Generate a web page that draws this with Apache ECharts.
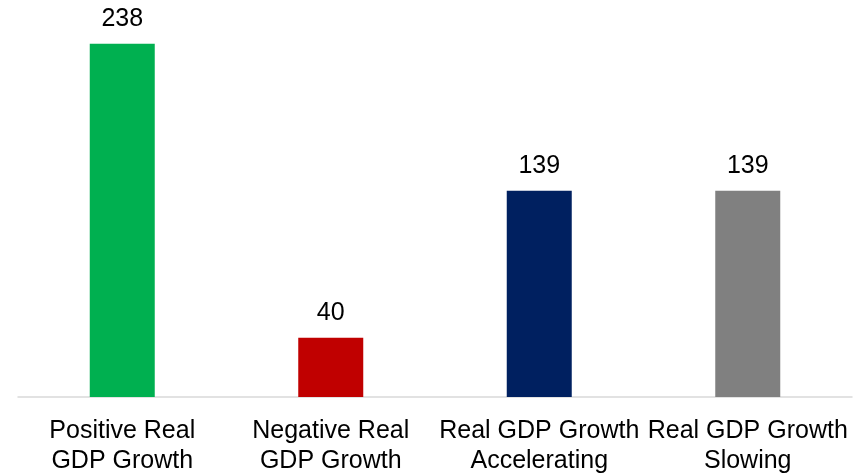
<!DOCTYPE html>
<html>
<head>
<meta charset="utf-8">
<script src="https://cdn.jsdelivr.net/npm/echarts@6/dist/echarts.min.js"></script>
<style>html,body{margin:0;padding:0;background:#fff;}#c{width:861px;height:476px;}</style>
</head>
<body>
<div id="c"></div>
<script>
var categories = ['Positive Real\nGDP Growth', 'Negative Real\nGDP Growth', 'Real GDP Growth\nAccelerating', 'Real GDP Growth\nSlowing'];
var values = [238, 40, 139, 139];
var colors = ['#00B050', '#C00000', '#002060', '#808080'];

var chart = echarts.init(document.getElementById('c'));
chart.setOption({
  animation: false,
  grid: { left: 18, right: 9, top: 26, bottom: 76, containLabel: false },
  xAxis: {
    type: 'category',
    data: categories,
    axisLine: { show: true, lineStyle: { color: '#d9d9d9', width: 1.5 } },
    axisTick: { show: false },
    axisLabel: {
      interval: 0,
      color: '#000',
      fontFamily: 'Liberation Sans, Arial, sans-serif',
      fontSize: 25,
      lineHeight: 30,
      margin: 19
    }
  },
  yAxis: { type: 'value', min: 0, max: 250, show: false, splitLine: { show: false } },
  series: [{
    type: 'bar',
    barWidth: 65,
    data: values.map(function (v, i) { return { value: v, itemStyle: { color: colors[i] } }; }),
    label: {
      show: true,
      position: 'top',
      distance: 12,
      color: '#000',
      fontFamily: 'Liberation Sans, Arial, sans-serif',
      fontSize: 25
    }
  }]
});
</script>
</body>
</html>
